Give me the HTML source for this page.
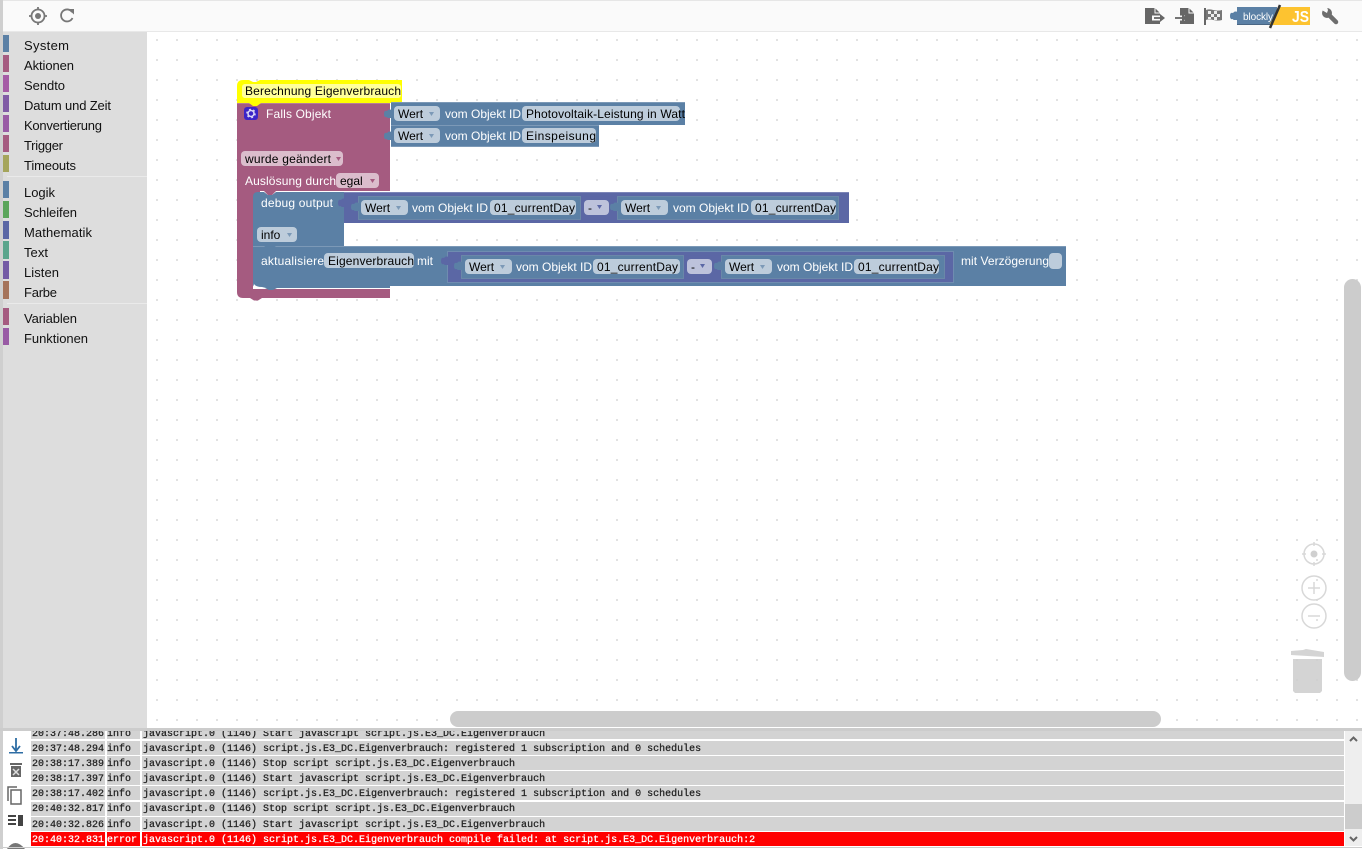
<!DOCTYPE html>
<html><head><meta charset="utf-8"><title>Blockly</title>
<style>
html,body{margin:0;padding:0;background:#fff;width:1369px;height:849px;overflow:hidden}
svg{display:block}
text{font-family:"Liberation Sans",sans-serif;font-size:12px;fill:#000}
.w{fill:#fff}
.c{font-size:13px;fill:#111}
.m{font-family:"Liberation Mono",monospace;font-size:10px;fill:#222;stroke:#222;stroke-width:.25}
.r{font-family:"Liberation Mono",monospace;font-size:10px;fill:#fff;stroke:#fff;stroke-width:.25}
.f{fill:#bdccdb}.p{fill:#dbbdcc}.u{fill:#bdc2db}
.a{fill:#7c99b7}
.in{fill:#5b80a5;stroke:#6a87a8;stroke-width:1}
</style></head><body>
<svg width="1369" height="849" viewBox="0 0 1369 849" xmlns="http://www.w3.org/2000/svg">
<defs>
<pattern id="g" x="147" y="30" width="20" height="20" patternUnits="userSpaceOnUse"><rect x="9" y="9" width="2" height="2" fill="#e2e2e2"/></pattern>
<path id="tab" d="M1 -1v3q-3-1-4 0t-1 1q-3-1-3 3t3 3q0 1 1 1t4 0v3z"/>
</defs>
<rect x="147" y="32" width="1215" height="696" fill="url(#g)"/>
<!-- frame / toolbar -->
<rect x="3" y="1" width="1359" height="30" fill="#fafafa"/>
<rect x="0" y="0" width="1362" height="1" fill="#e6e6e6"/>
<rect x="3" y="31" width="1359" height="1" fill="#e8e8e8"/>
<rect x="0" y="0" width="3" height="849" fill="#cfcfcf"/>
<!-- toolbar icons -->
<g fill="none" stroke="#777" stroke-width="1.800">
<circle cx="38" cy="16" r="6.500"/><path d="M38 7v3M38 22v3M29 16h3M44 16h3"/>
<path d="M72 12a6 6 0 1 0 .5 6"/></g>
<circle cx="38" cy="16" r="3" fill="#777"/>
<path d="M68 9h6v5.500z" fill="#777"/>
<!-- export -->
<path d="M1145 8h10l5 5v11h-15z" fill="#666"/>
<path d="M1155 8v5h5" fill="none" stroke="#fafafa"/>
<path d="M1152 18h8" stroke="#fafafa" stroke-width="5"/>
<path d="M1154 18h8" stroke="#666" stroke-width="1.800"/><path d="M1160 14l5 4-5 4z" fill="#666"/>
<!-- import -->
<path d="M1180 8h9l5 5v11h-14z" fill="#666"/>
<path d="M1189 8v5h5" fill="none" stroke="#fafafa"/>
<path d="M1174 18h11" stroke="#fafafa" stroke-width="5"/>
<path d="M1175 18h8" stroke="#666" stroke-width="1.800"/><path d="M1182 14l5 4-5 4z" fill="#666"/>
<!-- flag -->
<path d="M1204 8h2v17h-2z" fill="#666"/>
<path d="M1206 10c5-2 9 2 16 0v10c-7 2-11-2-16 0z" fill="#777"/>
<path d="M1208 11h3v3h-3zM1214 11h3v3h-3zM1211 14h3v3h-3zM1217 14h3v3h-3zM1208 17h3v2h-3zM1214 17h3v3h-3z" fill="#eee"/>
<!-- wrench -->
<circle cx="1327" cy="13" r="5" fill="#6d6d6d"/>
<path d="M1328 14l8 8" stroke="#6d6d6d" stroke-width="4.500" stroke-linecap="round"/>
<path d="M1320 9l7 4 1-3-2-5z" fill="#fafafa"/>
<!-- logo -->
<rect x="1237" y="7" width="40" height="18" fill="#5b80a5"/>
<use href="#tab" x="1237" y="10" fill="#5b80a5"/>
<path d="M1280 7h30v18h-41z" fill="#fdc330"/>
<rect x="1237" y="24" width="33" height="1" fill="#496684"/>
<text x="1243" y="20" textLength="30" style="font-size:10px;fill:#fff">blockly</text>
<text x="1292" y="22" textLength="17" lengthAdjust="spacingAndGlyphs" style="font-size:16px;font-weight:bold;fill:#fff">JS</text>
<path d="M1280 5l-10 23" stroke="#333" stroke-width="2.500"/>
<!-- toolbox -->
<rect x="3" y="32" width="144" height="696" fill="#ddd"/>
<rect x="7" y="176" width="140" height="1" fill="#eaeaea"/>
<rect x="7" y="303" width="140" height="1" fill="#eaeaea"/>
<rect x="3" y="35" width="6" height="17" fill="#5b80a5"/>
<rect x="3" y="55" width="6" height="17" fill="#a55b80"/>
<rect x="3" y="75" width="6" height="17" fill="#a55ba5"/>
<rect x="3" y="95" width="6" height="17" fill="#805ba5"/>
<rect x="3" y="115" width="6" height="17" fill="#995ba5"/>
<rect x="3" y="135" width="6" height="17" fill="#a55b80"/>
<rect x="3" y="155" width="6" height="17" fill="#a5a55b"/>
<rect x="3" y="181" width="6" height="17" fill="#5b80a5"/>
<rect x="3" y="201" width="6" height="17" fill="#5ba55b"/>
<rect x="3" y="221" width="6" height="18" fill="#5b67a5"/>
<rect x="3" y="241" width="6" height="18" fill="#5ba58c"/>
<rect x="3" y="261" width="6" height="18" fill="#745ba5"/>
<rect x="3" y="281" width="6" height="18" fill="#a5745b"/>
<rect x="3" y="308" width="6" height="17" fill="#a55b80"/>
<rect x="3" y="328" width="6" height="17" fill="#995ba5"/>
<text class="c" x="24" y="50" textLength="45">System</text>
<text class="c" x="24" y="70" textLength="50">Aktionen</text>
<text class="c" x="24" y="90" textLength="41">Sendto</text>
<text class="c" x="24" y="110" textLength="87">Datum und Zeit</text>
<text class="c" x="24" y="130" textLength="78">Konvertierung</text>
<text class="c" x="24" y="150" textLength="39">Trigger</text>
<text class="c" x="24" y="170" textLength="52">Timeouts</text>
<text class="c" x="24" y="197" textLength="31">Logik</text>
<text class="c" x="24" y="217" textLength="53">Schleifen</text>
<text class="c" x="24" y="237" textLength="68">Mathematik</text>
<text class="c" x="24" y="257" textLength="24">Text</text>
<text class="c" x="24" y="277" textLength="35">Listen</text>
<text class="c" x="24" y="297" textLength="33">Farbe</text>
<text class="c" x="24" y="323" textLength="53">Variablen</text>
<text class="c" x="24" y="343" textLength="64">Funktionen</text>
<!-- hat with yellow highlight -->
<path d="M237 103V86q0-6 6-6h6l4 2h3l4-2h142v23z" fill="#ff0"/>
<rect x="242" y="84" width="159" height="14" rx="3" fill="#ffff99"/>
<text x="245" y="95" textLength="156">Berechnung Eigenverbrauch</text>
<!-- main trigger block -->
<path d="M237 103H390V191H253V289H390V298H262l-4 2.500h-4l-4-2.500h-7q-6 0-6-6z" fill="#a55b80"/>
<rect x="253" y="191" width="7" height="7" fill="#a55b80"/>
<rect x="237" y="103" width="153" height="1" fill="#b77c99"/>
<path d="M249 103h12l-4 3h-4z" fill="#ff0"/>
<rect x="244" y="107" width="14" height="13" rx="3" fill="#3c24c8"/>
<circle cx="251" cy="113.500" r="3" fill="none" stroke="#dcd8f5" stroke-width="1.500"/>
<circle cx="251" cy="113.500" r="4.200" fill="none" stroke="#dcd8f5" stroke-width="1.200" stroke-dasharray="2 2.400"/>
<text class="w" x="266" y="118" textLength="65">Falls Objekt</text>
<rect x="241" y="151" width="102" height="15" rx="4" class="p"/>
<text x="245" y="163" textLength="86">wurde geändert</text>
<path d="M336 157h5l-2.500 4z" fill="#a55b80"/>
<text class="w" x="245" y="185" textLength="91">Auslösung durch</text>
<rect x="336" y="173" width="43" height="15" rx="4" class="p"/>
<text x="340" y="185">egal</text>
<path d="M370 179h5l-2.500 4z" fill="#a55b80"/>
<!-- value blocks top -->
<path d="M391 102h294v23H391z" fill="#5b80a5"/><rect x="391" y="102" width="294" height="1" fill="#7c99b7"/>
<path d="M391 125h208v22H391z" fill="#5b80a5"/><rect x="391" y="125" width="208" height="1" fill="#7c99b7"/><rect x="391" y="146" width="208" height="1" fill="#7c99b7"/>
<use href="#tab" x="391" y="108" fill="#5b80a5"/><use href="#tab" x="391" y="130" fill="#5b80a5"/>
<rect x="394" y="106" width="46" height="15" rx="4" class="f"/>
<text x="398" y="118">Wert</text><path d="M429 112h5l-2.500 4z" class="a"/>
<text class="w" x="445" y="118">vom Objekt ID</text>
<rect x="522" y="106" width="158" height="15" rx="4" class="f"/>
<text x="526" y="118" textLength="159">Photovoltaik-Leistung in Watt</text>
<rect x="394" y="128" width="46" height="15" rx="4" class="f"/>
<text x="398" y="140">Wert</text><path d="M429 134h5l-2.500 4z" class="a"/>
<text class="w" x="445" y="140">vom Objekt ID</text>
<rect x="522" y="128" width="74" height="15" rx="4" class="f"/>
<text x="526" y="140" textLength="70">Einspeisung</text>
<!-- debug block -->
<path d="M253 197q0-5 5-5h6l4 3h4l4-3h68v54H253z" fill="#5b80a5"/>
<path d="M264 191h12l-4 4h-4z" fill="#a55b80"/>
<text class="w" x="261" y="207" textLength="72">debug output</text>
<rect x="257" y="227" width="40" height="15" rx="4" class="f"/>
<text x="261" y="239">info</text><path d="M287 233h5l-2.500 4z" class="a"/>
<!-- math block 1 -->
<rect x="344" y="192" width="505" height="31" fill="#5b67a5"/>
<rect x="344" y="192" width="505" height="1" fill="#7c85b7"/>
<use href="#tab" x="345" y="197" fill="#5b67a5"/>
<rect x="358.500" y="196.500" width="222" height="23" class="in"/>
<use href="#tab" x="358" y="201" fill="#5b80a5"/>
<rect x="361" y="200" width="47" height="15" rx="4" class="f"/>
<text x="365" y="212">Wert</text><path d="M396 206h5l-2.500 4z" class="a"/>
<text class="w" x="412" y="212">vom Objekt ID</text>
<rect x="490" y="200" width="86" height="15" rx="4" class="f"/>
<text x="494" y="212" textLength="81">01_currentDay</text>
<rect x="584" y="200" width="25" height="15" rx="4" class="u"/>
<text x="588" y="212">-</text><path d="M597 205h5l-2.500 4z" fill="#5b67a5"/>
<rect x="617.500" y="196.500" width="221" height="23" class="in"/>
<use href="#tab" x="617" y="201" fill="#5b80a5"/>
<rect x="621" y="200" width="47" height="15" rx="4" class="f"/>
<text x="625" y="212">Wert</text><path d="M656 206h5l-2.500 4z" class="a"/>
<text class="w" x="673" y="212">vom Objekt ID</text>
<rect x="751" y="200" width="85" height="15" rx="4" class="f"/>
<text x="755" y="212" textLength="81">01_currentDay</text>
<!-- update block -->
<path d="M253 246H1066V286H390V288H277l-4 2h-4l-4-2h-7q-5 0-5-5z" fill="#5b80a5"/>
<path d="M254 284q2 3 8 3l4 1h-12z" fill="#fff"/>
<rect x="253" y="246" width="813" height="1" fill="#7c99b7"/>
<path d="M264 246h12l-4 3h-4z" fill="#5b80a5"/>
<text class="w" x="261" y="265" textLength="63">aktualisiere</text>
<rect x="324" y="253" width="90" height="15" rx="4" class="f"/>
<text x="328" y="265" textLength="86">Eigenverbrauch</text>
<text class="w" x="417" y="265">mit</text>
<rect x="447.500" y="251.500" width="506" height="31" fill="#5b67a5" stroke="#6f8cb0"/>
<use href="#tab" x="448" y="255" fill="#5b67a5"/>
<rect x="461.500" y="255.500" width="222" height="23" class="in"/>
<use href="#tab" x="461" y="260" fill="#5b80a5"/>
<rect x="465" y="259" width="47" height="15" rx="4" class="f"/>
<text x="469" y="271">Wert</text><path d="M500 265h5l-2.500 4z" class="a"/>
<text class="w" x="516" y="271">vom Objekt ID</text>
<rect x="593" y="259" width="87" height="15" rx="4" class="f"/>
<text x="597" y="271" textLength="81">01_currentDay</text>
<rect x="687" y="259" width="25" height="15" rx="4" class="u"/>
<text x="691" y="271">-</text><path d="M700 264h5l-2.500 4z" fill="#5b67a5"/>
<rect x="721.500" y="255.500" width="223" height="23" class="in"/>
<use href="#tab" x="721" y="260" fill="#5b80a5"/>
<rect x="725" y="259" width="47" height="15" rx="4" class="f"/>
<text x="729" y="271">Wert</text><path d="M760 265h5l-2.500 4z" class="a"/>
<text class="w" x="777" y="271">vom Objekt ID</text>
<rect x="854" y="259" width="85" height="15" rx="4" class="f"/>
<text x="858" y="271" textLength="81">01_currentDay</text>
<text class="w" x="961" y="265" textLength="88">mit Verzögerung</text>
<rect x="1049" y="253" width="13" height="16" rx="4" class="f"/>
<!-- zoom controls -->
<g fill="none" stroke="#d8d8d8" stroke-width="1.500">
<circle cx="1314" cy="554" r="10"/><path d="M1314 542v4M1314 562v4M1302 554h4M1322 554h4"/>
<circle cx="1314" cy="588" r="12"/><path d="M1308 588h12M1314 582v12"/>
<circle cx="1314" cy="616" r="12"/><path d="M1308 616h12"/>
</g>
<circle cx="1314" cy="554" r="3.500" fill="#d0d0d0"/>
<path d="M1291 651l12-1 3-1 6 1 12 2v5l-33-2z" fill="#ccc" opacity=".85"/>
<path d="M1293 659h29v32l-2 2h-25l-2-2z" fill="#ccc" opacity=".85"/>
<!-- workspace scrollbars -->
<rect x="1344" y="279" width="17" height="402" rx="8.500" fill="#ccc"/>
<rect x="450" y="711" width="711" height="16" rx="8" fill="#ccc"/>
<!-- log panel -->
<rect x="3" y="728" width="1359" height="121" fill="#fff"/>
<rect x="0" y="728" width="1362" height="3" fill="#ccc"/>
<g fill="#d3d3d3">
<rect x="31" y="731" width="74" height="8"/><rect x="107" y="731" width="33" height="8"/><rect x="142" y="731" width="1202" height="8"/>
<rect x="31" y="741" width="74" height="14"/><rect x="107" y="741" width="33" height="14"/><rect x="142" y="741" width="1202" height="14"/>
<rect x="31" y="756" width="74" height="14"/><rect x="107" y="756" width="33" height="14"/><rect x="142" y="756" width="1202" height="14"/>
<rect x="31" y="771" width="74" height="14"/><rect x="107" y="771" width="33" height="14"/><rect x="142" y="771" width="1202" height="14"/>
<rect x="31" y="786" width="74" height="14"/><rect x="107" y="786" width="33" height="14"/><rect x="142" y="786" width="1202" height="14"/>
<rect x="31" y="802" width="74" height="14"/><rect x="107" y="802" width="33" height="14"/><rect x="142" y="802" width="1202" height="14"/>
<rect x="31" y="817" width="74" height="14"/><rect x="107" y="817" width="33" height="14"/><rect x="142" y="817" width="1202" height="14"/>
</g>
<g fill="#f00">
<rect x="31" y="832" width="74" height="14"/><rect x="107" y="832" width="33" height="14"/><rect x="142" y="832" width="1202" height="14"/>
</g>
<svg x="31" y="731" width="1313" height="8" viewBox="31 731 1313 8"><text class="m" x="32" y="736">20:37:48.286</text><text class="m" x="107" y="736">info</text><text class="m" x="143" y="736">javascript.0 (1146) Start javascript script.js.E3_DC.Eigenverbrauch</text></svg>
<text class="m" x="32" y="751">20:37:48.294</text><text class="m" x="107" y="751">info</text><text class="m" x="143" y="751">javascript.0 (1146) script.js.E3_DC.Eigenverbrauch: registered 1 subscription and 0 schedules</text>
<text class="m" x="32" y="766">20:38:17.389</text><text class="m" x="107" y="766">info</text><text class="m" x="143" y="766">javascript.0 (1146) Stop script script.js.E3_DC.Eigenverbrauch</text>
<text class="m" x="32" y="781">20:38:17.397</text><text class="m" x="107" y="781">info</text><text class="m" x="143" y="781">javascript.0 (1146) Start javascript script.js.E3_DC.Eigenverbrauch</text>
<text class="m" x="32" y="796">20:38:17.402</text><text class="m" x="107" y="796">info</text><text class="m" x="143" y="796">javascript.0 (1146) script.js.E3_DC.Eigenverbrauch: registered 1 subscription and 0 schedules</text>
<text class="m" x="32" y="811">20:40:32.817</text><text class="m" x="107" y="811">info</text><text class="m" x="143" y="811">javascript.0 (1146) Stop script script.js.E3_DC.Eigenverbrauch</text>
<text class="m" x="32" y="827">20:40:32.826</text><text class="m" x="107" y="827">info</text><text class="m" x="143" y="827">javascript.0 (1146) Start javascript script.js.E3_DC.Eigenverbrauch</text>
<text class="r" x="32" y="842">20:40:32.831</text><text class="r" x="107" y="842">error</text><text class="r" x="143" y="842">javascript.0 (1146) script.js.E3_DC.Eigenverbrauch compile failed: at script.js.E3_DC.Eigenverbrauch:2</text>
<!-- log side icons -->
<path d="M16 738v12M12 746l4 5 4-5" fill="none" stroke="#2e6da4" stroke-width="1.800"/>
<rect x="9" y="752" width="14" height="1.500" fill="#2e6da4"/>
<path d="M10 763h12v2H10zM11 766h10v11H11z" fill="#666"/><path d="M13 769l6 6M19 769l-6 6" stroke="#ddd" stroke-width="1.500"/>
<g fill="none" stroke="#666" stroke-width="1.500"><path d="M8 801v-14h9"/><rect x="11" y="790" width="10" height="14"/></g>
<path d="M8 815h8v2H8zM8 819h8v2H8zM8 823h8v2H8zM18 815h5v11h-5z" fill="#444"/>
<path d="M7 849q8-12 18 0z" fill="#777"/>
<!-- log scrollbar -->
<rect x="1345" y="731" width="17" height="115" fill="#eee"/>
<rect x="1345" y="804" width="17" height="25" fill="#ccc"/>
<path d="M1350 741l3.500-3.500 3.500 3.500M1350 837l3.500 3.500 3.500-3.500" fill="none" stroke="#666" stroke-width="2"/>
<rect x="3" y="847" width="1359" height="1" fill="#ccc"/>
</svg>
</body></html>
